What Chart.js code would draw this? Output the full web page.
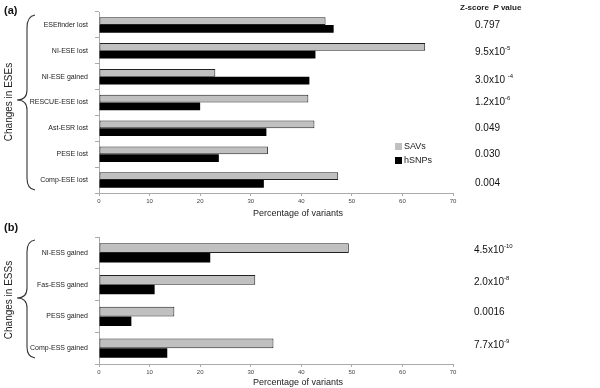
<!DOCTYPE html>
<html><head><meta charset="utf-8">
<script src="https://cdn.jsdelivr.net/npm/chart.js@4"></script>
<style>
html,body{margin:0;padding:0;background:#fff;}
body{width:600px;height:388px;position:relative;overflow:hidden;font-family:"Liberation Sans",Arial,sans-serif;color:#111;}
.abs{position:absolute;white-space:nowrap;}
.pv{position:absolute;left:475px;font-size:10px;line-height:10px;transform:translateY(-50%);}
.pv sup{font-size:6px;vertical-align:5px;line-height:0;}
.lab{font-weight:bold;font-size:11px;}
.rot{position:absolute;font-size:10px;transform:translate(-50%,-50%) rotate(-90deg);white-space:nowrap;color:#222;}
.xt{position:absolute;font-size:9px;color:#222;transform:translate(-50%,-50%);white-space:nowrap;}
</style></head>
<body>
<div class="abs" style="left:0;top:0;width:600px;height:220px;"><canvas id="ca"></canvas></div>
<div class="abs" style="left:0;top:220px;width:600px;height:168px;"><canvas id="cb"></canvas></div>

<svg class="abs" style="left:0;top:0" width="600" height="388">
<path d="M35,15 Q27,16 27,28 L27,90 Q27,100 17,100 Q27,100 27,110 L27,178 Q27,189 35,190" fill="none" stroke="#333" stroke-width="1.1"/>
<path d="M35,240 Q27,241 27,252 L27,288 Q27,298 17,298 Q27,298 27,308 L27,347 Q27,357 35,358" fill="none" stroke="#333" stroke-width="1.1"/>
<rect x="395" y="143" width="7" height="7" fill="#c0c0c0"/>
<rect x="395" y="157" width="7" height="7" fill="#000"/>
</svg>

<div class="abs lab" style="left:4px;top:4px;">(a)</div>
<div class="abs lab" style="left:4px;top:221px;">(b)</div>
<div class="rot" style="left:8px;top:102px;">Changes in ESEs</div>
<div class="rot" style="left:8px;top:300px;">Changes in ESSs</div>
<div class="xt" style="left:298px;top:213px;">Percentage of variants</div>
<div class="xt" style="left:298px;top:382px;">Percentage of variants</div>
<div class="abs" style="left:404px;top:141px;font-size:9px;line-height:11px;color:#222;">SAVs</div>
<div class="abs" style="left:404px;top:155px;font-size:9px;line-height:11px;color:#222;">hSNPs</div>
<div class="abs" style="left:460px;top:3px;font-size:8px;font-weight:bold;color:#222;">Z-score&nbsp;&nbsp;<i>P</i> value</div>

<div class="pv" style="top:25px;">0.797</div>
<div class="pv" style="top:52px;">9.5x10<sup>-5</sup></div>
<div class="pv" style="top:80px;">3.0x10 <sup>-4</sup></div>
<div class="pv" style="top:102px;">1.2x10<sup>-6</sup></div>
<div class="pv" style="top:128px;">0.049</div>
<div class="pv" style="top:154px;">0.030</div>
<div class="pv" style="top:183px;">0.004</div>
<div class="pv" style="top:250px;left:474px;">4.5x10<sup>-10</sup></div>
<div class="pv" style="top:282px;left:474px;">2.0x10<sup>-8</sup></div>
<div class="pv" style="top:312px;left:474px;">0.0016</div>
<div class="pv" style="top:345px;left:474px;">7.7x10<sup>-9</sup></div>

<script>
const eseCategories = ["ESEfinder lost","NI-ESE lost","NI-ESE gained","RESCUE-ESE lost","Ast-ESR lost","PESE lost","Comp-ESE lost"];
const eseSAVs  = [44.8, 64.5, 23.0, 41.4, 42.6, 33.4, 47.3];
const eseHSNPs = [46.4, 42.8, 41.6, 20.0, 33.1, 23.7, 32.6];

const essCategories = ["NI-ESS gained","Fas-ESS gained","PESS gained","Comp-ESS gained"];
const essSAVs  = [49.4, 30.9, 14.9, 34.5];
const essHSNPs = [22.0, 11.0, 6.4, 13.5];

const xTicks = [0,10,20,30,40,50,60,70];
const seriesNames = ["SAVs","hSNPs"];

Chart.defaults.font.family = '"Liberation Sans", Arial, sans-serif';
Chart.defaults.animation = false;

function makeChart(id, cats, sav, snp, padTop, xHeight) {
  return new Chart(document.getElementById(id), {
    type: 'bar',
    data: {
      labels: cats,
      datasets: [
        {label: seriesNames[0], data: sav, backgroundColor: '#c0c0c0', borderColor: '#222', borderWidth: 1, borderSkipped: false},
        {label: seriesNames[1], data: snp, backgroundColor: '#000', borderColor: '#000', borderWidth: 0}
      ]
    },
    options: {
      indexAxis: 'y',
      responsive: true,
      maintainAspectRatio: false,
      animation: false,
      layout: {padding: {left: 0, right: 147, top: padTop, bottom: 0}},
      datasets: {bar: {categoryPercentage: 0.6, barPercentage: 1}},
      plugins: {legend: {display: false}, tooltip: {enabled: false}},
      scales: {
        x: {
          min: 0, max: 70,
          afterFit: s => { s.height = xHeight; },
          afterBuildTicks: s => { s.ticks = xTicks.map(v => ({value: v})); },
          border: {color: '#aaa', width: 1},
          grid: {drawOnChartArea: false, drawTicks: true, tickLength: 3, color: '#aaa'},
          ticks: {font: {size: 6}, color: '#444', padding: 2, maxRotation: 0}
        },
        y: {
          afterFit: s => { s.width = 99; },
          border: {color: '#aaa', width: 1},
          grid: {drawOnChartArea: false, drawTicks: true, tickLength: 4, color: '#aaa', offset: true},
          ticks: {font: {size: 7}, color: '#222', padding: 7}
        }
      }
    }
  });
}

makeChart('ca', eseCategories, eseSAVs, eseHSNPs, 12, 27);
makeChart('cb', essCategories, essSAVs, essHSNPs, 17, 24);
</script>
</body></html>
